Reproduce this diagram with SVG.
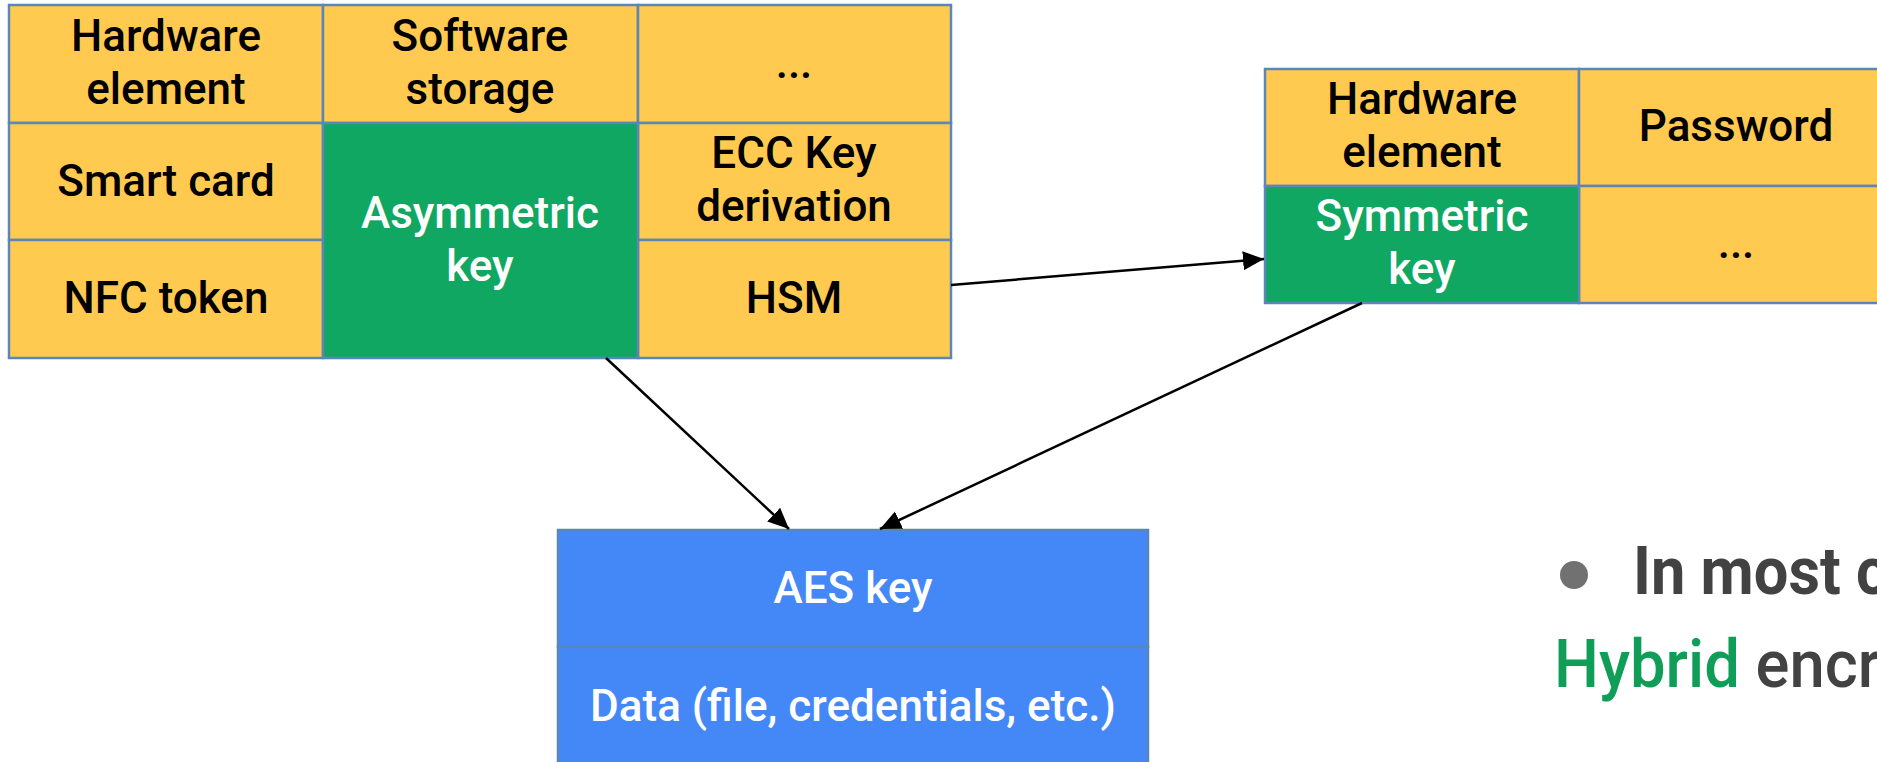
<svg xmlns="http://www.w3.org/2000/svg" width="1877" height="762" viewBox="0 0 1877 762">
  <defs>
    <marker id="arrow" markerUnits="userSpaceOnUse" markerWidth="22" markerHeight="20" refX="21" refY="9.5" orient="auto">
      <path d="M0,0 L21,9.5 L0,19 z" fill="#000"/>
    </marker>
    <style>
      .cell { stroke: #5b87b8; stroke-width: 2.5; }
      .y { fill: #ffca4f; }
      .g { fill: #10a762; }
      .b { fill: #4488f8; }
      text { font-family: Roboto, "Liberation Sans", sans-serif; font-size: 44px; font-weight: 500; text-anchor: middle; }
      .dk { fill: #000; }
      .lt { fill: #fff; }
      .edge { stroke: #000; stroke-width: 2.5; fill: none; marker-end: url(#arrow); }
      .note { text-anchor: start; font-size: 66px; fill: #424242; }
      .strong { font-weight: 700; }
    </style>
  </defs>
  <rect width="1877" height="762" fill="#fff"/>

  <!-- key storage options around the asymmetric key -->
  <g id="asymmetric-grid">
    <rect class="cell y" x="9" y="5" width="314" height="118"/>
    <rect class="cell y" x="323" y="5" width="315" height="118"/>
    <rect class="cell y" x="638" y="5" width="313" height="118"/>
    <rect class="cell y" x="9" y="123" width="314" height="117"/>
    <rect class="cell y" x="9" y="240" width="314" height="118"/>
    <rect class="cell y" x="638" y="123" width="313" height="117"/>
    <rect class="cell y" x="638" y="240" width="313" height="118"/>
    <rect class="cell g" x="323" y="123" width="315" height="235"/>
    <text class="dk" x="166" y="51">Hardware</text>
    <text class="dk" x="166" y="104">element</text>
    <text class="dk" x="480" y="51">Software</text>
    <text class="dk" x="480" y="104">storage</text>
    <text class="dk" x="794" y="78">...</text>
    <text class="dk" x="166" y="196">Smart card</text>
    <text class="dk" x="166" y="313">NFC token</text>
    <text class="lt" x="480" y="228">Asymmetric</text>
    <text class="lt" x="480" y="281">key</text>
    <text class="dk" x="794" y="168">ECC Key</text>
    <text class="dk" x="794" y="221">derivation</text>
    <text class="dk" x="794" y="313">HSM</text>
  </g>

  <!-- key storage options around the symmetric key -->
  <g id="symmetric-grid">
    <rect class="cell y" x="1265" y="69" width="314" height="117"/>
    <rect class="cell y" x="1579" y="69" width="314" height="117"/>
    <rect class="cell y" x="1579" y="186" width="314" height="117"/>
    <rect class="cell g" x="1265" y="186" width="314" height="117"/>
    <text class="dk" x="1422" y="114">Hardware</text>
    <text class="dk" x="1422" y="167">element</text>
    <text class="dk" x="1736" y="141">Password</text>
    <text class="lt" x="1422" y="231">Symmetric</text>
    <text class="lt" x="1422" y="284">key</text>
    <text class="dk" x="1736" y="258">...</text>
  </g>

  <!-- session key wrapping the data -->
  <g id="aes-box">
    <rect class="cell b" x="558" y="530" width="590" height="117"/>
    <rect class="cell b" x="558" y="647" width="590" height="120"/>
    <text class="lt" x="853" y="603">AES key</text>
    <text class="lt" x="853" y="721">Data (file, credentials, etc.)</text>
  </g>

  <g id="connectors">
    <line class="edge" x1="951" y1="285" x2="1264" y2="259"/>
    <line class="edge" x1="606" y1="358" x2="789" y2="529"/>
    <line class="edge" x1="1362" y1="303" x2="880" y2="529"/>
  </g>

  <g id="note">
    <circle cx="1574" cy="575" r="14" fill="#717171"/>
    <text class="note strong" transform="translate(1633 594) scale(0.93 1)">In most c</text>
    <text class="note" transform="translate(1554 687) scale(0.96 1)"><tspan fill="#0f9d58">Hybrid</tspan> encr</text>
  </g>
</svg>
